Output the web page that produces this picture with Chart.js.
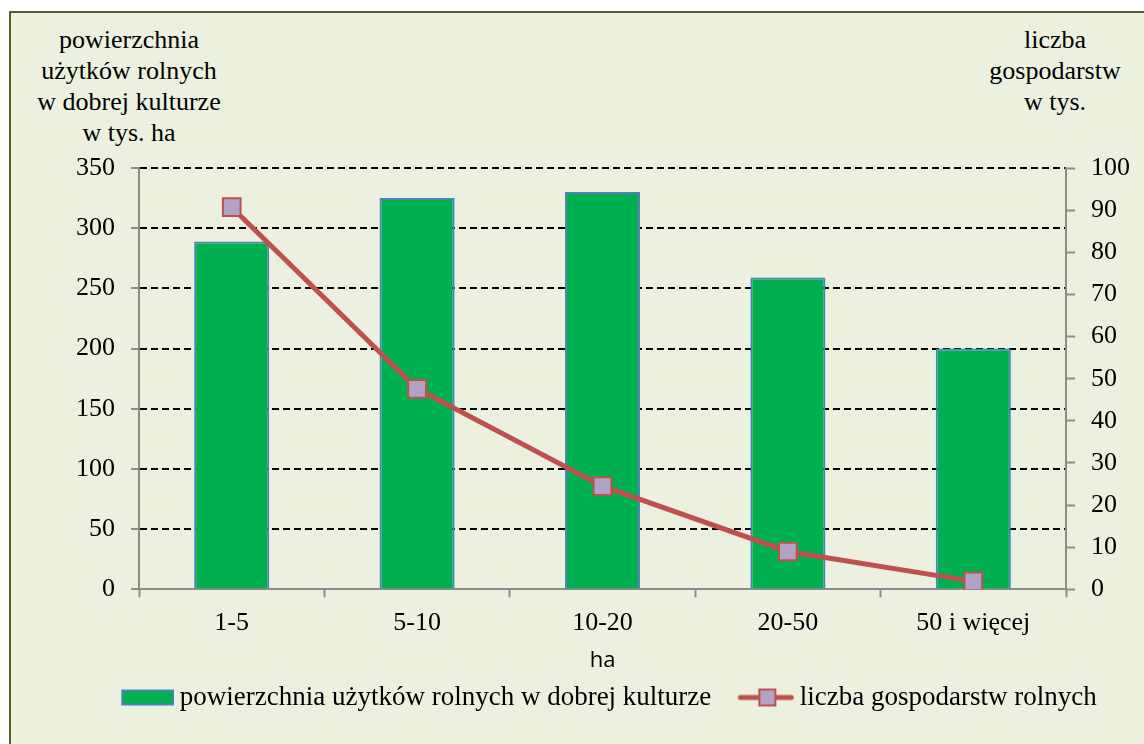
<!DOCTYPE html>
<html lang="pl">
<head>
  <meta charset="UTF-8">
  <title>Powierzchnia użytków rolnych i liczba gospodarstw</title>
  <script src="https://cdn.jsdelivr.net/npm/chart.js"></script>
  <style>
    body { margin: 0; background: #fff; overflow: hidden; width: 1144px; height: 744px; position: relative; }
    #frame { position: absolute; left: 9px; top: 11px; width: 1200px; height: 800px;
             background: #EBF1DE; border-left: 2px solid #4F6228; border-top: 2px solid #4F6228; }
    .atitle { position: absolute; width: 240px; text-align: center;
              font-family: 'Liberation Serif'; font-size: 26px; line-height: 31px; color: #000; }
    #tl { left: 9px; top: 24px; }
    #tr { left: 935px; top: 24px; }
    canvas { position: absolute; left: 0; top: 0; }
  </style>
</head>
<body>
  <div id="frame"></div>
  <div class="atitle" id="tl">powierzchnia<br>użytków rolnych<br>w dobrej kulturze<br>w tys. ha</div>
  <div class="atitle" id="tr">liczba<br>gospodarstw<br>w tys.</div>
  <canvas id="chart" width="1144" height="744"></canvas>

  <script>
    // dane
    const categories = ['1-5', '5-10', '10-20', '20-50', '50 i więcej'];
    const areaValues = [289, 325, 330, 259, 200];      // tys. ha
    const farmValues = [90.7, 47.6, 24.5, 9, 1.9];      // tys. gospodarstw
    const seriesNames = ['powierzchnia użytków rolnych w dobrej kulturze', 'liczba gospodarstw rolnych'];

    const GREEN = '#00B050', BLUE = '#4F81BD', RED = '#C0504D', LILAC = '#B3A2C7', GRAY = '#8C8C8C';
    const serif = "'Liberation Serif'";

    // ikonki legendy (prawa krawedz obrazka = koniec ikonki)
    function barSwatch() {
      const c = document.createElement('canvas');
      c.width = 81; c.height = 20;
      const g = c.getContext('2d');
      g.fillStyle = GREEN;
      g.fillRect(29, 3, 51, 14);
      g.strokeStyle = BLUE; g.lineWidth = 2;
      g.strokeRect(29, 3, 51, 14);
      return c;
    }
    function lineSwatch() {
      const c = document.createElement('canvas');
      c.width = 81; c.height = 22;
      const g = c.getContext('2d');
      g.strokeStyle = RED; g.lineWidth = 5; g.lineCap = 'round';
      g.beginPath(); g.moveTo(27, 11); g.lineTo(78, 11); g.stroke();
      g.fillStyle = LILAC;
      g.fillRect(46, 3, 16, 16);
      g.lineWidth = 2;
      g.strokeRect(46, 3, 16, 16);
      return c;
    }
    const swatches = [barSwatch(), lineSwatch()];

    new Chart(document.getElementById('chart'), {
      data: {
        labels: categories,
        datasets: [{
          type: 'bar',
          label: seriesNames[0],
          data: areaValues,
          yAxisID: 'y',
          backgroundColor: GREEN,
          borderColor: BLUE,
          borderWidth: 2,
          barPercentage: 0.405,
          categoryPercentage: 1,
          order: 1
        }, {
          type: 'line',
          label: seriesNames[1],
          data: farmValues,
          yAxisID: 'y1',
          borderColor: RED,
          borderWidth: 5,
          tension: 0,
          pointStyle: 'rect',
          pointRadius: 12.5,
          pointBackgroundColor: LILAC,
          pointBorderColor: RED,
          pointBorderWidth: 2,
          order: 0
        }]
      },
      options: {
        responsive: false,
        animation: false,
        layout: { padding: { top: 168, left: 54, right: 0, bottom: 23 } },
        plugins: {
          tooltip: { enabled: false },
          legend: {
            position: 'bottom',
            labels: {
              usePointStyle: true,
              pointStyleWidth: 65,
              padding: 10,
              color: '#000',
              font: { family: serif, size: 27 },
              generateLabels: () => seriesNames.map((name, i) => ({
                text: name,
                pointStyle: swatches[i],
                datasetIndex: i,
                fontColor: '#000',
                hidden: false,
                lineWidth: 0
              }))
            },
            onClick: null
          }
        },
        scales: {
          x: {
            offset: true,
            grid: { display: true, drawOnChartArea: false, offset: true, tickLength: 8, tickColor: GRAY, tickWidth: 2 },
            border: { color: GRAY, width: 2 },
            ticks: { color: '#000', padding: 10, font: { family: serif, size: 26 } },
            title: { display: true, text: 'ha', color: '#000', padding: { top: -1, bottom: 0 },
                     font: { family: "'Open Sans'", size: 22 } }
          },
          y: {
            position: 'left',
            min: 0, max: 350,
            ticks: { stepSize: 50, color: '#000', padding: 16, font: { family: serif, size: 26 } },
            grid: {
              color: ctx => ctx.tick && ctx.tick.value === 0 ? 'rgba(0,0,0,0)' : '#000',
              lineWidth: 2,
              tickLength: 8, tickColor: GRAY, tickWidth: 2
            },
            border: { color: GRAY, width: 2, dash: [7, 4] },
            afterFit: s => { s.width = 85; }
          },
          y1: {
            position: 'right',
            min: 0, max: 100,
            ticks: { stepSize: 10, color: '#000', padding: 16, font: { family: serif, size: 26 } },
            grid: { drawOnChartArea: false, tickLength: 9, tickColor: GRAY, tickWidth: 2 },
            border: { color: GRAY, width: 2 },
            afterFit: s => { s.width = 78; }
          }
        }
      }
    });
  </script>
</body>
</html>
